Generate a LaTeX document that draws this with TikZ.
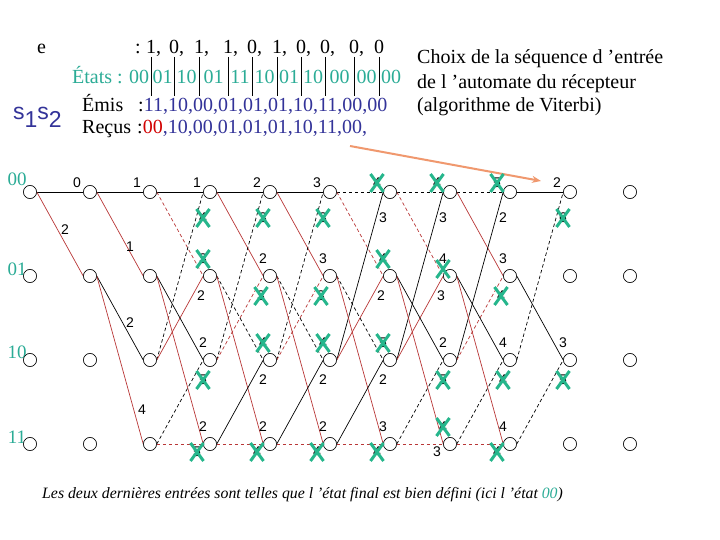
\documentclass[tikz,border=0pt]{standalone}
\usepackage{fontspec}
\setmainfont{Liberation Serif}
\setsansfont{Liberation Sans}
\usetikzlibrary{arrows.meta}
\definecolor{tealA}{RGB}{43,172,150}
\definecolor{xcol}{RGB}{38,182,140}
\definecolor{redl}{RGB}{185,55,55}
\definecolor{navyA}{RGB}{51,51,153}
\definecolor{redA}{RGB}{210,0,0}
\definecolor{orangeA}{RGB}{240,152,110}
\newcommand\tfont{\fontsize{20}{24}\selectfont}
\newcommand\nfont{\sffamily\fontsize{14}{16}\selectfont}
\newcommand\Eg[4]{\pgfmathtruncatemacro\nx{#2+1}\draw[#1] (n#2-#3.east) -- (n\nx-#4.west);}
\newcommand\Step[9]{%
  \Eg{blk,#2}{#1}{0}{0}\Eg{rd,#3}{#1}{0}{1}\Eg{blk,#4}{#1}{2}{0}\Eg{rd,#5}{#1}{2}{1}%
  \Eg{blk,#6}{#1}{1}{2}\Eg{rd,#7}{#1}{1}{3}\Eg{blk,#8}{#1}{3}{2}\Eg{rd,#9}{#1}{3}{3}}
\newcommand\labA[2]{\node[lbl] (A#1) at ([shift={(-13,-9)}]n#1-0.center) {#2};}
\newcommand\labB[2]{\node[lbl] (B#1) at ([shift={(-7,-17)}]n#1-1.center) {#2};}
\newcommand\labC[2]{\node[lbl] (C#1) at ([shift={(-7,26)}]n#1-0.center) {#2};}
\newcommand\labD[2]{\node[lbl] (D#1) at ([shift={(-9,20)}]n#1-1.center) {#2};}
\newcommand\labE[2]{\node[lbl] (E#1) at ([shift={(-7,-17)}]n#1-2.center) {#2};}
\newcommand\labF[2]{\node[lbl] (F#1) at ([shift={(-7,-17)}]n#1-3.center) {#2};}
\newcommand\labG[2]{\node[lbl] (G#1) at ([shift={(-7,20)}]n#1-2.center) {#2};}
\newcommand\labH[2]{\node[lbl] (H#1) at ([shift={(-13,8)}]n#1-3.center) {#2};}
\newcommand\Xm[1]{\draw[xs] ([shift={(-6.5,-9)}]#1.center) -- ([shift={(6.5,9)}]#1.center) ([shift={(-6.5,9)}]#1.center) -- ([shift={(6.5,-9)}]#1.center);}
\begin{document}
\begin{tikzpicture}[x=1pt,y=-1pt,
  stnode/.style={circle,draw=black,fill=white,line width=0.55pt,minimum size=13pt,inner sep=0pt},
  lbl/.style={font=\nfont,inner sep=0pt},
  xs/.style={draw=xcol,line width=3pt},
  blk/.style={draw=black,line width=0.7pt},
  rd/.style={draw=redl,line width=0.7pt},
  solq/.style={},
  dshq/.style={dash pattern=on 3.5pt off 2.5pt},
  txt/.style={font=\tfont,inner sep=0pt,anchor=base west},
  txc/.style={font=\tfont,inner sep=0pt,anchor=base},
  stlab/.style={font=\fontsize{19}{20}\selectfont,text=tealA,inner sep=0pt},
  sep/.style={draw=black,line width=0.6pt}]
\fill[white] (0,0) rectangle (720,540);
\useasboundingbox (0,0) rectangle (720,540);
% ---- header text
\node[txt] (e) at (37,54) {e};
\node[txt] (ecol) at (135,54) {:};
\foreach \xx/\d [count=\i] in {151/{1,},174/{0,},199/{1,},228/{1,},252/{0,},277/{1,},301/{0,},325/{0,},354/{0,},379/{0}}{
  \node[txt] (ed\i) at (\xx-5,54) {\d};
  \coordinate (st\i) at (\xx,57);
  \coordinate (sb\i) at (\xx,96);
  \draw[sep] (st\i) -- (sb\i);
}
\node[txt,text=tealA] (etats) at (72,84) {États :};
\foreach \xx/\s [count=\i] in {139/00,162.5/01,186.5/10,213.5/01,240/11,264.5/10,289/01,313/10,339.5/00,366.5/00,391/00}{
  \node[txc,text=tealA] (es\i) at (\xx,84) {\s};
}
\node[font=\sffamily\fontsize{23}{25}\selectfont,text=navyA,inner sep=0pt,anchor=base west] (s12) at (13,120) {s\raisebox{-7.5pt}{1}s\raisebox{-7.5pt}{2}};
\node[txt] (emis) at (82,112) {Émis};
\node[txt] (emisv) at (138,112) {:\textcolor{navyA}{11,10,00,01,01,01,10,11,00,00}};
\node[txt] (recus) at (82,134) {Reçus};
\node[txt] (recusv) at (137,134) {:\textcolor{redA}{00}\textcolor{navyA}{,10,00,01,01,01,10,11,00,}};
\node[txt] (ch1) at (417,64) {Choix de la séquence d 'entrée};
\node[txt] (ch2) at (417,89) {de l 'automate du récepteur};
\node[txt] (ch3) at (417,112) {(algorithme de Viterbi)};
\coordinate (oa) at (350,146);
\coordinate (ob) at (541,181);
\draw[draw=orangeA,line width=2pt,-{Stealth[length=9pt,width=7pt]}] (oa) -- (ob);
% ---- trellis nodes
\foreach \c in {0,...,10}{
  \foreach \r/\yy in {0/192,1/276,2/360,3/444}{
    \node[stnode] (n\c-\r) at ({30+60*\c},\yy) {};
  }
}
\node[stlab] (r00) at (17,179) {00};
\node[stlab] (r01) at (17,269) {01};
\node[stlab] (r10) at (17,352) {10};
\node[stlab] (r11) at (17,437) {11};
% ---- edges
\Eg{blk}{0}{0}{0}\Eg{rd}{0}{0}{1}
\Eg{blk}{1}{0}{0}\Eg{rd}{1}{0}{1}\Eg{blk}{1}{1}{2}\Eg{rd}{1}{1}{3}
\Step{2}{solq}{dshq}{dshq}{solq}{solq}{solq}{dshq}{dshq}
\Step{3}{solq}{solq}{dshq}{dshq}{dshq}{solq}{solq}{dshq}
\Step{4}{solq}{solq}{dshq}{dshq}{dshq}{solq}{solq}{dshq}
\Step{5}{dshq}{dshq}{solq}{solq}{dshq}{solq}{solq}{dshq}
\Step{6}{dshq}{dshq}{solq}{solq}{solq}{solq}{dshq}{dshq}
\Step{7}{dshq}{solq}{solq}{dshq}{solq}{solq}{dshq}{dshq}
\Eg{blk}{8}{0}{0}\Eg{blk,dshq}{8}{2}{0}\Eg{blk}{8}{1}{2}\Eg{blk,dshq}{8}{3}{2}
% ---- redraw nodes on top
\foreach \c in {0,...,10}{
  \foreach \r/\yy in {0/192,1/276,2/360,3/444}{
    \node[stnode] at (n\c-\r) {};
  }
}
% ---- metrics
\labA{1}{0}\node[lbl] (B1) at (65,230) {2};
\labA{2}{1}\node[lbl] (B2) at (130,247) {1};\node[lbl] (E2) at (130,323) {2};\node[lbl] (F2) at (142,410) {4};
\labA{3}{1}\labB{3}{3}\Xm{B3}\labC{3}{4}\Xm{C3}\labD{3}{2}\labE{3}{2}\labF{3}{2}\labG{3}{5}\Xm{G3}\labH{3}{5}\Xm{H3}
\labA{4}{2}\labB{4}{2}\labC{4}{3}\Xm{C4}\labD{4}{3}\Xm{D4}\labE{4}{4}\Xm{E4}\labF{4}{2}\labG{4}{2}\labH{4}{4}\Xm{H4}
\labA{5}{3}\labB{5}{3}\labC{5}{3}\Xm{C5}\labD{5}{3}\Xm{D5}\labE{5}{4}\Xm{E5}\labF{5}{2}\labG{5}{2}\labH{5}{4}\Xm{H5}
\labA{6}{4}\Xm{A6}\labB{6}{4}\Xm{B6}\labC{6}{3}\labD{6}{2}\labE{6}{5}\Xm{E6}\labF{6}{3}\labG{6}{2}\labH{6}{4}\Xm{H6}
\labA{7}{4}\Xm{A7}\labB{7}{4}\coordinate (xb7) at ([shift={(0,10)}]B7.center);\Xm{xb7}\labC{7}{3}\labD{7}{3}\labE{7}{2}\labF{7}{4}\Xm{F7}\labG{7}{5}\Xm{G7}\labH{7}{3}
\labA{8}{5}\Xm{A8}\labB{8}{3}\labC{8}{2}\labD{8}{4}\Xm{D8}\labE{8}{4}\labF{8}{4}\labG{8}{4}\Xm{G8}\labH{8}{4}\Xm{H8}
\labA{9}{2}\labC{9}{6}\Xm{C9}\labE{9}{3}\labG{9}{5}\Xm{G9}
% ---- footer
\node[font=\itshape\fontsize{15.8}{17}\selectfont,inner sep=0pt,anchor=base west] (foot) at (42,498) {Les deux dernières entrées sont telles que l 'état final est bien défini (ici l 'état \textcolor{tealA}{00})};
\end{tikzpicture}
\end{document}
